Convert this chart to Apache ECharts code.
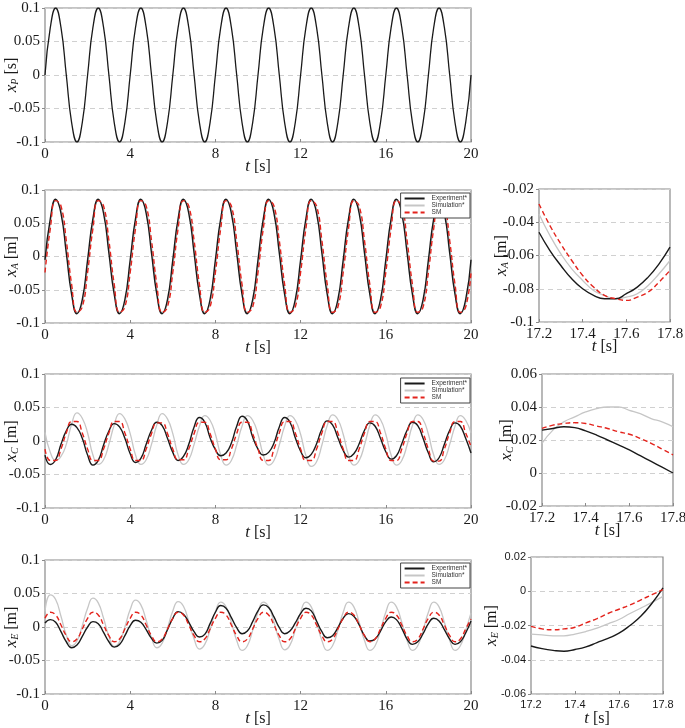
<!DOCTYPE html>
<html>
<head>
<meta charset="utf-8">
<script src="https://cdn.jsdelivr.net/npm/echarts@6/dist/echarts.min.js"></script>
<style>
  html, body { margin: 0; background: #fff; }
  #chart { width: 685px; height: 728px; }
</style>
</head>
<body>
<div id="chart"></div>
<script>
// sample times (s)
const tMain = [0,0.25,0.5,0.75,1,1.25,1.5,1.75,2,2.25,2.5,2.75,3,3.25,3.5,3.75,4,4.25,4.5,4.75,5,5.25,5.5,5.75,6,6.25,6.5,6.75,7,7.25,7.5,7.75,8,8.25,8.5,8.75,9,9.25,9.5,9.75,10,10.25,10.5,10.75,11,11.25,11.5,11.75,12,12.25,12.5,12.75,13,13.25,13.5,13.75,14,14.25,14.5,14.75,15,15.25,15.5,15.75,16,16.25,16.5,16.75,17,17.25,17.5,17.75,18,18.25,18.5,18.75,19,19.25,19.5,19.75,20];
const tZoom = [17.2,17.25,17.3,17.35,17.4,17.45,17.5,17.55,17.6,17.65,17.7,17.75,17.8];

// x_P input
const xP = [
  0,0.071,0.1,0.071,0,-0.071,-0.1,-0.071,
  0,0.071,0.1,0.071,0,-0.071,-0.1,-0.071,
  0,0.071,0.1,0.071,0,-0.071,-0.1,-0.071,
  0,0.071,0.1,0.071,0,-0.071,-0.1,-0.071,
  0,0.071,0.1,0.071,0,-0.071,-0.1,-0.071,
  0,0.071,0.1,0.071,0,-0.071,-0.1,-0.071,
  0,0.071,0.1,0.071,0,-0.071,-0.1,-0.071,
  0,0.071,0.1,0.071,0,-0.071,-0.1,-0.071,
  0,0.071,0.1,0.071,0,-0.071,-0.1,-0.071,
  0,0.071,0.1,0.071,0,-0.071,-0.1,-0.071,
  0];

// x_A
const aExp = [
  -0.005,0.057,0.086,0.065,0.005,-0.057,-0.086,-0.065,
  -0.005,0.057,0.086,0.065,0.005,-0.057,-0.086,-0.065,
  -0.005,0.057,0.086,0.065,0.005,-0.057,-0.086,-0.065,
  -0.005,0.057,0.086,0.065,0.005,-0.057,-0.086,-0.065,
  -0.005,0.057,0.086,0.065,0.005,-0.057,-0.086,-0.065,
  -0.005,0.057,0.086,0.065,0.005,-0.057,-0.086,-0.065,
  -0.005,0.057,0.086,0.065,0.005,-0.057,-0.086,-0.065,
  -0.005,0.057,0.086,0.065,0.005,-0.057,-0.086,-0.065,
  -0.005,0.057,0.086,0.065,0.005,-0.057,-0.086,-0.065,
  -0.005,0.057,0.086,0.065,0.005,-0.057,-0.086,-0.065,
  -0.005];
const aSim = [
  -0.016,0.048,0.084,0.071,0.016,-0.048,-0.084,-0.071,
  -0.016,0.048,0.084,0.071,0.016,-0.048,-0.084,-0.071,
  -0.016,0.048,0.084,0.071,0.016,-0.048,-0.084,-0.071,
  -0.016,0.048,0.084,0.071,0.016,-0.048,-0.084,-0.071,
  -0.016,0.048,0.084,0.071,0.016,-0.048,-0.084,-0.071,
  -0.016,0.048,0.084,0.071,0.016,-0.048,-0.084,-0.071,
  -0.016,0.048,0.084,0.071,0.016,-0.048,-0.084,-0.071,
  -0.016,0.048,0.084,0.071,0.016,-0.048,-0.084,-0.071,
  -0.016,0.048,0.084,0.071,0.016,-0.048,-0.084,-0.071,
  -0.016,0.048,0.084,0.071,0.016,-0.048,-0.084,-0.071,
  -0.016];
const aSm = [
  -0.024,0.042,0.084,0.076,0.024,-0.042,-0.084,-0.076,
  -0.024,0.042,0.084,0.076,0.024,-0.042,-0.084,-0.076,
  -0.024,0.042,0.084,0.076,0.024,-0.042,-0.084,-0.076,
  -0.024,0.042,0.084,0.076,0.024,-0.042,-0.084,-0.076,
  -0.024,0.042,0.084,0.076,0.024,-0.042,-0.084,-0.076,
  -0.024,0.042,0.084,0.076,0.024,-0.042,-0.084,-0.076,
  -0.024,0.042,0.084,0.076,0.024,-0.042,-0.084,-0.076,
  -0.024,0.042,0.084,0.076,0.024,-0.042,-0.084,-0.076,
  -0.024,0.042,0.084,0.076,0.024,-0.042,-0.084,-0.076,
  -0.024,0.042,0.084,0.076,0.024,-0.042,-0.084,-0.076,
  -0.024];

// x_C
const cExp = [
  -0.021,-0.035,-0.028,-0.005,0.015,0.025,0.020,0.004,
  -0.021,-0.036,-0.029,-0.006,0.015,0.026,0.021,0.004,
  -0.019,-0.032,-0.026,-0.005,0.016,0.028,0.023,0.004,
  -0.017,-0.029,-0.023,-0.005,0.021,0.035,0.028,0.005,
  -0.013,-0.022,-0.018,-0.003,0.022,0.037,0.030,0.006,
  -0.012,-0.021,-0.017,-0.003,0.021,0.035,0.028,0.005,
  -0.015,-0.025,-0.020,-0.004,0.018,0.030,0.024,0.005,
  -0.014,-0.024,-0.019,-0.004,0.016,0.027,0.022,0.004,
  -0.016,-0.027,-0.022,-0.004,0.016,0.028,0.023,0.004,
  -0.018,-0.031,-0.025,-0.005,0.016,0.027,0.022,0.004,
  -0.018];
const cSim = [
  0.013,-0.017,-0.029,-0.023,-0.005,0.025,0.042,0.034,
  0.012,-0.021,-0.035,-0.028,-0.005,0.024,0.041,0.033,
  0.011,-0.021,-0.035,-0.028,-0.005,0.024,0.041,0.033,
  0.011,-0.021,-0.035,-0.028,-0.005,0.022,0.038,0.031,
  0.010,-0.021,-0.036,-0.029,-0.006,0.022,0.038,0.031,
  0.010,-0.021,-0.036,-0.029,-0.006,0.022,0.038,0.031,
  0.010,-0.022,-0.038,-0.031,-0.006,0.023,0.039,0.032,
  0.010,-0.021,-0.036,-0.029,-0.006,0.023,0.039,0.032,
  0.010,-0.021,-0.036,-0.029,-0.006,0.023,0.039,0.032,
  0.010,-0.021,-0.035,-0.028,-0.005,0.022,0.038,0.031,
  0.012];
const cSm = [
  -0.012,-0.029,-0.029,-0.012,0.012,0.029,0.029,0.012,
  -0.012,-0.029,-0.029,-0.012,0.012,0.029,0.029,0.012,
  -0.012,-0.029,-0.029,-0.012,0.011,0.027,0.027,0.011,
  -0.012,-0.028,-0.028,-0.012,0.011,0.028,0.028,0.011,
  -0.012,-0.028,-0.028,-0.012,0.011,0.028,0.028,0.011,
  -0.012,-0.029,-0.029,-0.012,0.012,0.029,0.029,0.012,
  -0.012,-0.029,-0.029,-0.012,0.012,0.029,0.029,0.012,
  -0.012,-0.029,-0.029,-0.012,0.012,0.029,0.029,0.012,
  -0.012,-0.029,-0.029,-0.012,0.012,0.029,0.029,0.012,
  -0.012,-0.030,-0.030,-0.012,0.012,0.029,0.029,0.012,
  -0.008];

// x_E
const eExp = [
  0.006,0.011,0.007,-0.007,-0.022,-0.031,-0.027,-0.014,
  0.000,0.008,0.005,-0.008,-0.022,-0.030,-0.026,-0.013,
  0.002,0.010,0.007,-0.004,-0.017,-0.024,-0.020,-0.004,
  0.013,0.023,0.019,0.007,-0.007,-0.015,-0.011,0.005,
  0.022,0.032,0.028,0.014,-0.001,-0.010,-0.006,0.008,
  0.024,0.033,0.029,0.015,-0.001,-0.010,-0.006,0.006,
  0.020,0.028,0.024,0.009,-0.007,-0.016,-0.013,-0.001,
  0.013,0.020,0.016,0.003,-0.013,-0.021,-0.018,-0.006,
  0.008,0.015,0.011,-0.002,-0.018,-0.026,-0.022,-0.010,
  0.005,0.013,0.009,-0.004,-0.018,-0.026,-0.022,-0.009,
  0.009];
const eSim = [
  0.023,0.048,0.041,0.016,-0.012,-0.028,-0.021,0.002,
  0.028,0.043,0.036,0.013,-0.014,-0.029,-0.022,0.000,
  0.026,0.040,0.033,0.010,-0.016,-0.031,-0.024,-0.002,
  0.024,0.038,0.031,0.008,-0.018,-0.033,-0.026,-0.004,
  0.023,0.037,0.030,0.007,-0.020,-0.035,-0.028,-0.005,
  0.022,0.037,0.030,0.007,-0.019,-0.034,-0.027,-0.004,
  0.022,0.037,0.030,0.007,-0.020,-0.035,-0.028,-0.005,
  0.022,0.037,0.030,0.007,-0.020,-0.035,-0.028,-0.005,
  0.022,0.037,0.030,0.007,-0.020,-0.035,-0.028,-0.005,
  0.022,0.037,0.030,0.007,-0.020,-0.035,-0.028,-0.005,
  0.021];
const eSm = [
  0.013,0.022,0.018,0.003,-0.013,-0.022,-0.018,-0.003,
  0.013,0.022,0.018,0.003,-0.013,-0.022,-0.018,-0.003,
  0.013,0.022,0.018,0.003,-0.013,-0.022,-0.018,-0.003,
  0.013,0.022,0.018,0.003,-0.013,-0.022,-0.018,-0.003,
  0.013,0.022,0.018,0.003,-0.013,-0.022,-0.018,-0.003,
  0.013,0.022,0.018,0.003,-0.013,-0.022,-0.018,-0.003,
  0.013,0.022,0.018,0.003,-0.013,-0.022,-0.018,-0.003,
  0.013,0.022,0.018,0.003,-0.013,-0.022,-0.018,-0.003,
  0.013,0.022,0.018,0.003,-0.013,-0.022,-0.018,-0.003,
  0.013,0.022,0.018,0.003,-0.013,-0.022,-0.018,-0.003,
  0.012];

// zoomed windows 17.2 - 17.8 s
const zaExp = [-0.046,-0.057,-0.066,-0.074,-0.080,-0.084,-0.086,-0.086,-0.083,-0.079,-0.073,-0.065,-0.055];
const zaSim = [-0.035,-0.048,-0.059,-0.068,-0.075,-0.081,-0.084,-0.086,-0.085,-0.083,-0.078,-0.071,-0.063];
const zaSm  = [-0.029,-0.042,-0.053,-0.063,-0.072,-0.079,-0.084,-0.086,-0.087,-0.085,-0.082,-0.076,-0.069];
const zcExp = [0.026,0.027,0.028,0.0275,0.0255,0.023,0.020,0.017,0.014,0.0105,0.007,0.0035,0.0];
const zcSim = [0.018,0.026,0.031,0.034,0.037,0.039,0.040,0.040,0.038,0.036,0.033,0.031,0.028];
const zcSm  = [0.027,0.029,0.030,0.0305,0.030,0.0285,0.027,0.025,0.0235,0.021,0.018,0.0145,0.011];
const zeExp = [-0.032,-0.0335,-0.0345,-0.035,-0.034,-0.0325,-0.030,-0.0275,-0.0245,-0.020,-0.0145,-0.007,0.002];
const zeSim = [-0.025,-0.0255,-0.026,-0.026,-0.025,-0.0235,-0.0215,-0.019,-0.0165,-0.013,-0.0098,-0.0065,-0.003];
const zeSm  = [-0.0205,-0.022,-0.0225,-0.022,-0.021,-0.0185,-0.016,-0.013,-0.0105,-0.008,-0.005,-0.002,0.001];

const legendNames = ['Experiment*', 'Simulation*', 'SM'];

const serif = '"Liberation Serif", "Times New Roman", serif';
const sans = '"Liberation Sans", Arial, sans-serif';
const ink = '#1a1a1a';
const frameColor = '#8a8a8a';

const chart = echarts.init(document.getElementById('chart'));

// one entry per plot box
const panels = [
  { grid: { left: 45, top: 8, width: 426, height: 134 }, x: [0, 20, 4], y: [-0.1, 0.1, 0.05], sub: 'P', unit: 's', yGap: 25, tickFont: serif },
  { grid: { left: 45, top: 190, width: 426, height: 133 }, x: [0, 20, 4], y: [-0.1, 0.1, 0.05], sub: 'A', unit: 'm', yGap: 25, tickFont: serif },
  { grid: { left: 539, top: 189, width: 131, height: 133 }, x: [17.2, 17.8, 0.2], y: [-0.1, -0.02, 0.02], sub: 'A', unit: 'm', yGap: 29, tickFont: serif },
  { grid: { left: 45, top: 374, width: 426, height: 134 }, x: [0, 20, 4], y: [-0.1, 0.1, 0.05], sub: 'C', unit: 'm', yGap: 25, tickFont: serif },
  { grid: { left: 542, top: 374, width: 131, height: 132 }, x: [17.2, 17.8, 0.2], y: [-0.02, 0.06, 0.02], sub: 'C', unit: 'm', yGap: 27, tickFont: serif },
  { grid: { left: 45, top: 560, width: 426, height: 134 }, x: [0, 20, 4], y: [-0.1, 0.1, 0.05], sub: 'E', unit: 'm', yGap: 25, tickFont: serif },
  { grid: { left: 531, top: 557, width: 132, height: 137 }, x: [17.2, 17.8, 0.2], y: [-0.06, 0.02, 0.02], sub: 'E', unit: 'm', yGap: 31, tickFont: sans }
];

const nameStyle = {
  fontFamily: serif, fontSize: 16, color: ink,
  rich: {
    v: { fontFamily: serif, fontStyle: 'italic', fontSize: 17, color: ink },
    s: { fontFamily: serif, fontStyle: 'italic', fontSize: 10, color: ink, padding: [7, 0, 0, 0] }
  }
};

const grid = panels.map(p => Object.assign({
  show: true, borderColor: frameColor, borderWidth: 1.2, backgroundColor: '#fff',
  containLabel: false, outerBoundsMode: 'none'
}, p.grid));

function labelStyle(p) {
  return { fontFamily: p.tickFont, fontSize: p.tickFont === sans ? 11 : 15, color: ink, margin: 5 };
}

const xAxis = panels.map((p, i) => ({
  type: 'value', gridIndex: i, position: 'bottom',
  min: p.x[0], max: p.x[1], interval: p.x[2],
  name: '{v|t} [s]', nameLocation: 'middle', nameGap: 16, nameMoveOverlap: false,
  nameTextStyle: nameStyle,
  axisLine: { show: false, onZero: false },
  axisTick: { show: true, inside: true, length: 3, lineStyle: { color: frameColor } },
  axisLabel: labelStyle(p),
  splitLine: { show: false }
}));

const yAxis = panels.map((p, i) => ({
  type: 'value', gridIndex: i, position: 'left',
  min: p.y[0], max: p.y[1], interval: p.y[2],
  name: '{v|x}{s|' + p.sub + '} [' + p.unit + ']', nameLocation: 'middle', nameGap: p.yGap, nameRotate: 90,
  nameMoveOverlap: false,
  nameTextStyle: nameStyle,
  axisLine: { show: false, onZero: false },
  axisTick: { show: true, length: 3, lineStyle: { color: frameColor } },
  axisLabel: labelStyle(p),
  splitLine: { show: true, lineStyle: { color: '#d0d0d0', type: [5, 4], width: 1 } }
}));

const styles = {
  'Experiment*': { color: ink, width: 1.4 },
  'Simulation*': { color: '#c6c6c6', width: 1.3 },
  'SM': { color: '#e3231c', width: 1.4, type: [5, 3] }
};

function line(name, idx, t, v) {
  const st = styles[name] || { color: ink, width: 1.3 };
  return {
    name: name, type: 'line', xAxisIndex: idx, yAxisIndex: idx,
    data: t.map((x, k) => [x, v[k]]),
    smooth: true, symbol: 'none', showSymbol: false, silent: true,
    itemStyle: { color: st.color },
    lineStyle: st
  };
}

const series = [
  line('xP', 0, tMain, xP),
  line('Simulation*', 1, tMain, aSim), line('Experiment*', 1, tMain, aExp), line('SM', 1, tMain, aSm),
  line('Simulation*', 2, tZoom, zaSim), line('Experiment*', 2, tZoom, zaExp), line('SM', 2, tZoom, zaSm),
  line('Simulation*', 3, tMain, cSim), line('Experiment*', 3, tMain, cExp), line('SM', 3, tMain, cSm),
  line('Simulation*', 4, tZoom, zcSim), line('Experiment*', 4, tZoom, zcExp), line('SM', 4, tZoom, zcSm),
  line('Simulation*', 5, tMain, eSim), line('Experiment*', 5, tMain, eExp), line('SM', 5, tMain, eSm),
  line('Simulation*', 6, tZoom, zeSim), line('Experiment*', 6, tZoom, zeExp), line('SM', 6, tZoom, zeSm)
];

// small boxed legends in the top right corner of rows 2-4
const legend = [193, 378, 563].map(top => ({
  data: legendNames, orient: 'vertical', right: 215, top: top,
  backgroundColor: '#fff', borderColor: '#444', borderWidth: 1, borderRadius: 0,
  padding: [2, 3, 2, 3], itemGap: 0, itemWidth: 20, itemHeight: 7,
  selectedMode: false,
  itemStyle: { opacity: 0 },
  textStyle: { fontFamily: sans, fontSize: 6.5, color: '#333', padding: [0, 0, 0, 2] }
}));

const option = {
  animation: false,
  backgroundColor: '#fff',
  grid: grid,
  xAxis: xAxis,
  yAxis: yAxis,
  legend: legend,
  series: series
};

option && chart.setOption(option);
</script>
</body>
</html>
